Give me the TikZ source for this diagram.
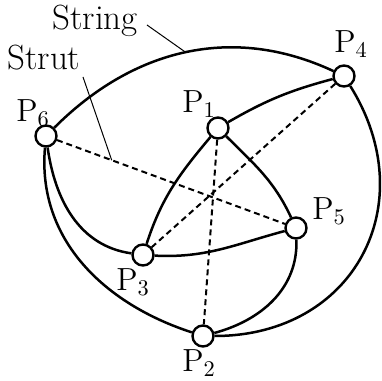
\RequirePackage{fix-cm}
\documentclass[tikz,border=0pt]{standalone}
\usetikzlibrary{positioning}
\begin{document}
\begin{tikzpicture}[
    x=0.5pt, y=0.5pt,
    pnt/.style={circle, draw, fill=white, line width=1.2pt, minimum size=10.5pt, inner sep=0pt},
    lbl/.style={font=\fontsize{16}{19}\selectfont, inner sep=0pt, anchor=base west},
    word/.style={lbl, font=\fontsize{17.5}{20}\selectfont},
    str/.style={line width=1.25pt},
    strut/.style={line width=1pt, dash pattern=on 3pt off 2pt},
    lead/.style={line width=0.5pt}
]
\useasboundingbox (0,0) rectangle (382,381);

\node[pnt] (p1) at (218,253) {};
\node[pnt] (p2) at (203,45) {};
\node[pnt] (p3) at (143,126) {};
\node[pnt] (p4) at (344,305) {};
\node[pnt] (p5) at (296,153) {};
\node[pnt] (p6) at (46,245) {};

\node[lbl] (l1) at (182,268) {$\mathrm{P}_1$};
\node[lbl] (l2) at (182,9) {$\mathrm{P}_2$};
\node[lbl] (l3) at (116,90) {$\mathrm{P}_3$};
\node[lbl] (l4) at (334,328) {$\mathrm{P}_4$};
\node[lbl] (l5) at (312,161) {$\mathrm{P}_5$};
\node[lbl] (l6) at (16,259) {$\mathrm{P}_6$};

\node[word] (string) at (52,351) {String};
\node[word] (strutlbl) at (7,311) {Strut};
\coordinate (stringtip) at (147,356);
\coordinate (struttip) at (83,304);

\draw[str] (p6) to[out=45, in=155] coordinate[pos=0.5] (strpt) (p4);
\draw[str] (p4) to[out=-58, in=0, looseness=1.25] (p2);
\draw[str] (p6) to[out=-95, in=162] (p2);
\draw[str] (p6) to[out=-82, in=172] (p3);
\draw[str] (p1) to[out=-130, in=72] (p3);
\draw[str] (p1) to[out=30, in=195] (p4);
\draw[str] (p1) to[out=-45, in=115] (p5);
\draw[str] (p3) to[out=-3, in=195] (p5);
\draw[str] (p5) to[out=-88, in=15] (p2);

\draw[strut] (p6) -- coordinate[pos=0.24] (strutpt) (p5);
\draw[strut] (p4) -- (p3);
\draw[strut] (p1) -- (p2);

\draw[lead] (stringtip) -- (strpt);
\draw[lead] (struttip) -- (strutpt);
\end{tikzpicture}
\end{document}
